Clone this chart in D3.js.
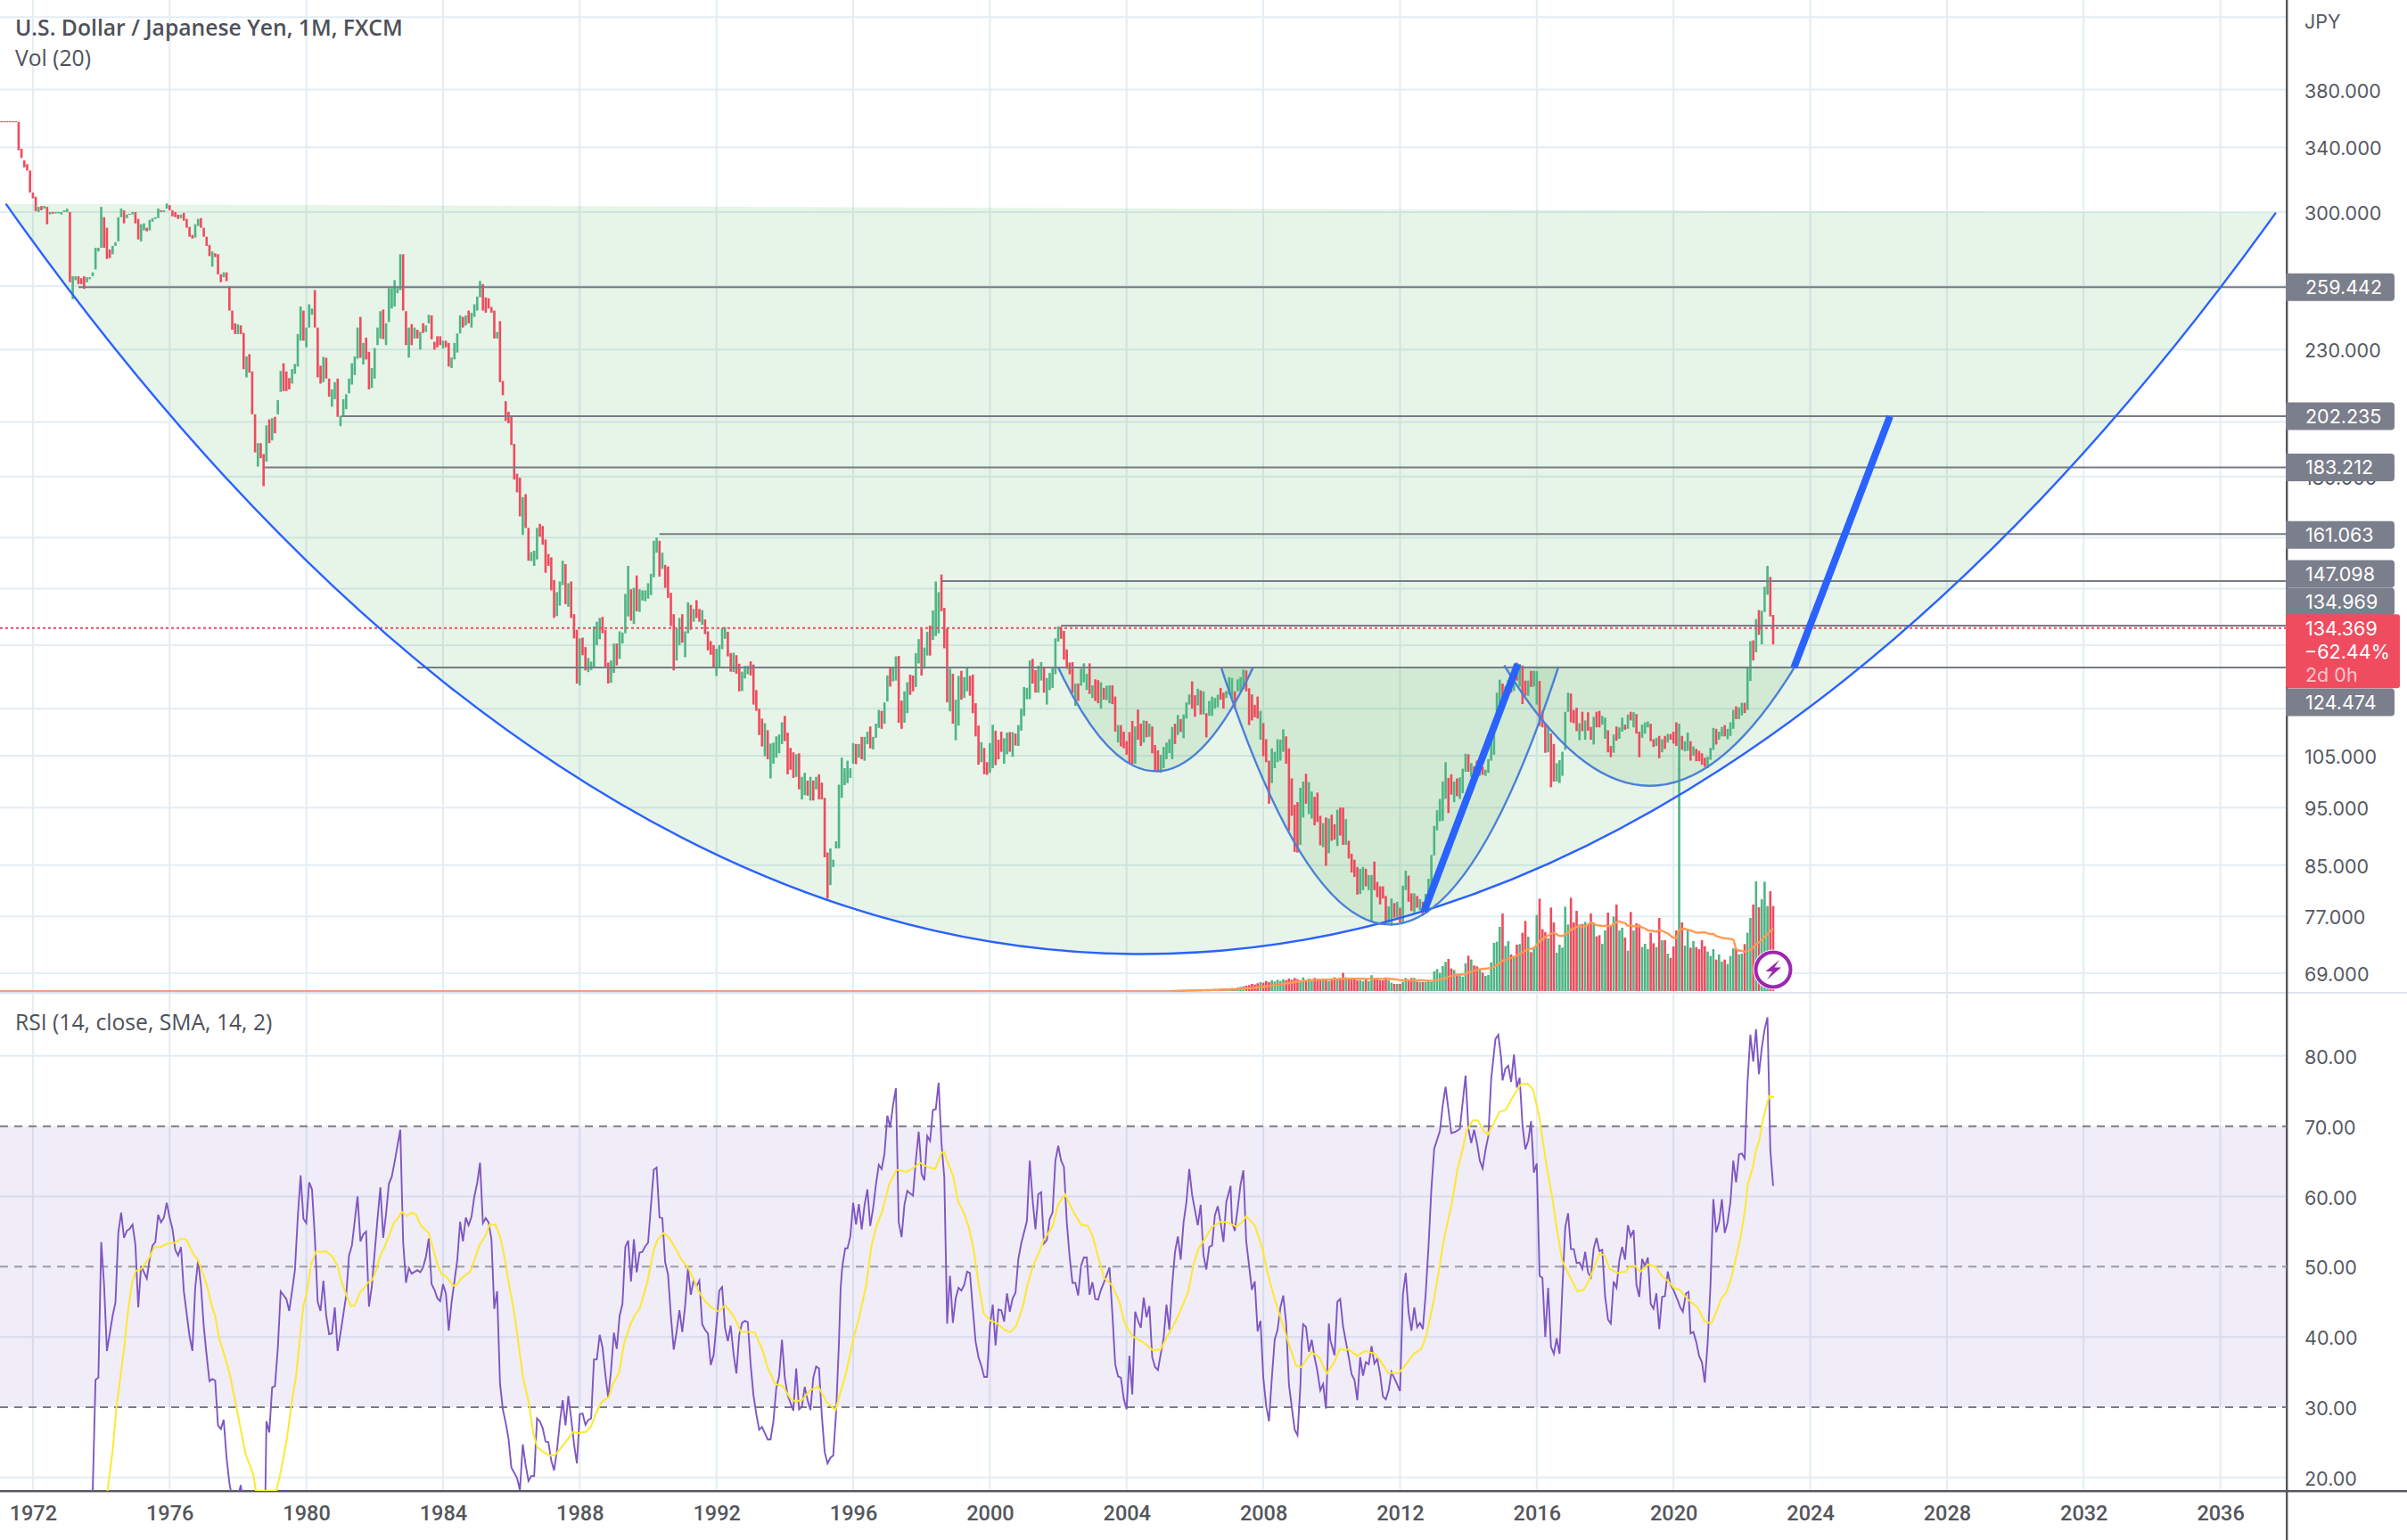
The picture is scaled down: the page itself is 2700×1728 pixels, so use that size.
<!DOCTYPE html>
<html>
<head>
<meta charset="utf-8">
<title>USD/JPY monthly</title>
<script src="https://cdn.jsdelivr.net/npm/d3@7"></script>
<style>
  html, body { margin: 0; padding: 0; background: #fff; }
  svg { display: block; }
  .scale text { font-family: Inter, Roboto, sans-serif; font-size: 21.5px; fill: #555962; }
  .time text { font-family: Roboto, sans-serif; font-size: 23.5px; font-weight: 500; fill: #54565c; }
  .legend { font-family: "Open Sans", sans-serif; font-size: 24.7px; fill: #4e5159; }
</style>
</head>
<body>
<svg id="chart" width="2700" height="1728"></svg>
<script>
// USD/JPY monthly bars as [high, low, rising]; month 0 is August 1971.
const firstMonth = -6;
const bars1971 = [
[357.5,357,0],[357.5,357,0],[357.5,357,0],[357.5,357,0],[357.5,357,0],[357.5,357,0],
[357,338,0],[339,333,0],[331.5,327,0],[329,325,0],[325,311.5,0],[311.5,308,0],[309,300.5,0],[303,300,1],[303.5,301,0],[303.5,302,1],
[303,293,0],[300,298.6,1],[300,299,0],[300,299.2,1],[300,299.2,1],[300,298.6,1],[301,300,1],[302,300,1],[300,262,0],[265,253.5,1],
[265,263,1],[265,261,0],[264,261,0],[265,258.6,0],[264.5,262,1],[264.5,263.5,1],[267,265,1],[280,268.5,1],[280,278,1],[303,280,1],
[297,280,0],[291,274,0],[279,274.5,0],[281,276.5,1],[283,281,1],[297,283.5,1],[302,297,1],[301,293.5,0],[298.6,296.5,1],[299,298.5,1],
[300,298.6,1],[300,293.5,0],[296,284.5,0],[293,283.5,1],[293.5,289.5,1],[291,289,0],[295.5,289.5,1],[296.5,294.5,1],[297,296,1],[302,296.5,1],
[301,300,0],[301,300,1],[305,302,1],[304,301,0],[301,297.5,0],[300,297,0],[298.5,296,0],[298.5,296.5,1],[299.5,295,0],[296,291,0],
[291.5,286,0],[287,285,0],[293,285.5,1],[296,292,1],[296.5,291,0],[291,286,0],[286,281,0],[281.5,275.5,0],[278,270,1],[277,275,0],
[276.5,266,0],[266,262,0],[267,264.5,1],[267,262.5,0],[260,248,0],[248,239,0],[242,237,0],[241.5,237,1],[241,237,0],[237.5,221.5,0],
[227,218,1],[228,220,0],[220.5,203,0],[203,188.6,0],[192,183.5,1],[192,186.5,0],[188,176.7,0],[198.7,185.3,1],[201,192,0],[201.5,193,1],
[202,195.7,0],[208.6,203,1],[220.7,212,1],[224,212.3,0],[220.5,212.3,0],[217.7,213,0],[221.5,215.4,1],[223.7,219.5,1],[237,222.6,1],[250,234,1],
[248,234,0]
];
const bars1980 = [
[240,231,1],[251,240,1],[249,246,1],[258,240,0],[240,218,0],[223,215.4,0],[226.8,216,1],[226.4,217.5,0],[217.5,210,0],[213,206,1],[216,209,1],[217.5,202,0],
[202.4,198.4,1],[209,202,1],[211,205,1],[217.5,211.4,1],[224,215,1],[227,219,1],[240,226,1],[245,226.4,0],[233,223.5,1],[235.4,225.7,0],[229,213,0],[222,213.6,1],
[230.7,217.5,1],[240,232,1],[247.7,235,1],[248.5,234.7,0],[242,232,1],[259,242.6,1],[259,249,1],[263,250,1],[259,256.5,1],[276.5,258,1],[276.5,248,0],[247.7,232,0],
[240,226.5,1],[241.6,232,0],[240,235,1],[239,235,0],[238,230,1],[242,237.5,0],[241,238,1],[246,242,1],[245.7,234.6,0],[233.5,230,0],[236,231,0],[236,232,0],
[234,230.5,1],[234,231,0],[233,222.6,0],[226.5,222,1],[233,225.7,1],[237.3,228.7,1],[245.7,237.3,1],[245,240,0],[245.7,241,1],[248,242,0],[247,240,1],[251,245,1],
[254.8,248,1],[262.6,254.5,1],[261,248,0],[254.4,247,0],[254,249,0],[249.7,247,0],[248,235,0],[238,235,1],[243,216,0],[216.5,210.6,0],[208.2,200.4,0],[204,199.5,0],
[202,191.3,0],[191.7,179,0],[181,174.6,0],[179.6,166.7,0],[173,160.8,1],[174,163,0],[163,153,0],[155.6,152.9,1],[156,151.5,1],[163,153.4,1],[164.3,160.3,0],[163.6,157.8,0],
[159.4,149.5,0],[155,151.5,0],[154,144.5,0],[147.4,137,0],[144,137.5,1],[147,140.3,1],[153,146,1],[152,140.7,0],[146.5,140,1],[147,137,0],[138,131.7,0],[133.9,120.7,0],
[131.7,120.3,1],[131.9,127.5,0],[129.5,123.8,0],[126.8,123.4,1],[125.9,123.9,1],[134.8,124.3,1],[136,130,1],[137,131.5,1],[137.3,133,0],[133.9,124.3,0],[125.7,120.7,0],[126.2,120.9,1],
[130.4,123.2,1],[130.4,125,0],[133.5,126.6,1],[133.2,130.4,1],[143.5,133,1],[151.5,137.4,1],[144.8,136.3,0],[145.2,135.4,1],[148.7,138.8,0],[144.8,138.6,1],[144.5,141.7,1],[144.5,141.5,1]
];
const bars1990 = [
[146.5,142.2,1],[149.2,143.2,1],[159,148.2,1],[160,155.4,1],[159,148.4,0],[155.4,150.6,1],[151.8,145.2,0],[151.3,142.4,0],[143.8,134.9,0],[138,123.8,0],[134.4,126.2,1],[137,130,1],
[138,130.6,0],[133.5,127,1],[141.2,133,1],[140.5,133.9,0],[139.4,136,1],[141.8,137,0],[139.4,136,0],[139.1,135.2,1],[136.6,132.8,0],[133.5,128.7,0],[131,127.6,0],[130,124.3,0],
[129.1,122.5,1],[130,124.3,1],[134.4,129,1],[134.6,131.6,1],[133.4,127.2,0],[128,123.5,0],[128.1,123.4,1],[127.5,123,0],[125.4,118.9,0],[123.5,119,1],[124.9,121.9,1],[124.9,122.9,1],
[126,122.6,0],[125.2,115.9,0],[119.2,114.5,0],[115,109.3,0],[112.8,106.9,0],[111.8,104.9,1],[110.3,104.3,0],[107.5,100.5,1],[107.7,103.4,1],[109,104.6,1],[109.4,105.5,1],[112,107.4,1],
[113.4,108,0],[109.8,101.3,0],[106.6,102.2,0],[105.7,100.6,0],[105.3,100.8,1],[105.5,98.4,0],[100.8,96.5,1],[101.6,97.3,1],[100.1,97.2,0],[100.8,96.3,1],[100.1,96.3,0],[100.8,98.4,1],
[101.3,96.5,0],[99.7,96.5,0],[96.8,86.3,0],[87.1,79.7,0],[87.8,81.8,1],[85.9,84.7,1],[89,87.8,1],[99.3,87.8,1],[104.6,96.8,1],[102.5,99.2,1],[104,99.6,1],[102.5,100.6,1],
[107.6,103.4,1],[107.4,103.3,0],[107.4,104.6,1],[108.9,104.3,0],[108.9,104,1],[110,107.4,1],[111.1,106.5,0],[108.9,106.3,1],[111.7,108.7,1],[114.7,110.8,1],[114.5,110.6,0],[116.4,111.7,1],
[122.6,116.6,1],[124.6,120,0],[124.6,121.2,1],[127.2,121.4,1],[127.3,111.9,0],[116.8,110.6,0],[118.9,111.9,1],[121,114,1],[122.8,118.1,0],[122.6,118.9,0],[128,119.9,1],[131.5,125.5,1],
[134.2,122.6,0],[129.4,124.2,1],[133.4,127.4,1],[135,127.4,0],[139,131.3,1],[147,132.3,1],[144,133,1],[149,138.8,0],[139.7,129.2,0],[134.2,116.4,0],[124.2,114.4,1],[123,111.7,0],
[117,108.2,1],[122.5,111.3,1],[123.7,117,0],[122.2,117.4,1],[124.6,118.9,1],[122.5,117.9,0],[122.8,114,0],[116.2,109,0],[111.3,103.2,0],[107.8,103.7,1],[106.6,101.3,0],[103.7,101.2,0]
];
const bars2000 = [
[107.6,101.6,1],[111.5,102.5,1],[110.2,103.1,0],[108.3,104.3,0],[110,105.8,0],[108.6,103.4,1],[109.8,105.3,1],[109.9,105.8,0],[109.9,104.8,1],[109.6,107.1,0],[111.4,107,1],[115,110.2,1],
[119.9,113.4,1],[119.7,117.1,1],[126.2,117.1,1],[126.6,120.7,0],[123.9,118.6,0],[124.9,118.6,1],[125.8,121.4,1],[124.6,118.6,0],[122,115.9,1],[123.2,119.2,1],[124.4,119.7,1],[131.7,122.9,1],
[134.8,130.9,1],[134.7,131.6,0],[133.6,126.4,0],[128.9,124.2,0],[125.7,122.9,0],[125.8,118.5,0],[120.7,115.6,1],[120.7,116.7,0],[124.2,120.2,1],[125.5,121,1],[123,119.2,1],[125.5,118.3,0],
[120.3,117.4,1],[121.7,116.7,0],[121.5,116.2,0],[121,115,1],[119.7,117,0],[120.2,116.9,1],[120.3,116.2,1],[120.3,116,0],[117.7,110,0],[111.4,107.7,1],[111.4,106.9,0],[110,106.5,0],
[108,105.2,0],[109.9,103.4,0],[112.3,103.4,0],[111.1,103.4,1],[114.8,108.3,0],[111.7,107,0],[112.4,107.7,1],[112.3,108.8,0],[111.7,108.9,1],[111.1,105.5,0],[107.2,101.9,0],[106.1,101.7,0],
[105.2,101.6,1],[106.8,102.5,1],[107.7,104.3,1],[108.4,105.5,1],[111,104.3,1],[111.7,107.4,0],[113.6,109.3,1],[112.7,109.9,0],[113.7,108.6,1],[116.4,112.8,1],[118.2,115.9,1],[121.2,115,0],
[118,113.2,0],[119.5,115.7,1],[119.1,113.7,0],[118.9,113.7,1],[114,108.8,0],[116.7,113.4,1],[117.7,113.4,1],[117.4,115,1],[118.1,115.3,1],[119.7,117,0],[118.6,115,0],[119,117.4,1],
[122.2,118.2,1],[122,117,1],[118.9,115,0],[121.7,118.9,1],[122.2,118.9,1],[124,119.4,1],[123.8,118.9,0],[119.6,111.4,0],[118.2,112.4,0],[115.8,113.1,0],[117.7,112.8,0],[114.5,108.3,1],
[111.8,104.9,0],[108.4,103.7,0],[104,95.7,0],[106.5,99.6,1],[105.8,102.5,1],[108.4,103.7,1],[108.3,104,1],[110.5,105.8,1],[109,103.4,0],[106.5,90.8,0],[100.5,93.5,0],[95.5,87.2,0],
[96,87.1,0],[98.7,88.4,1],[99.9,93.2,1],[101.4,95.7,0],[99.8,93.8,1],[98,93,1],[97,91.8,0],[97.8,92.4,0],[93.5,88.3,0],[92.2,88,1],[93.2,84.9,0],[93,87,1]
];
const bars2010 = [
[93.7,89.1,0],[92,89.3,0],[94.6,88.2,1],[95,90,0],[95,88.4,0],[92.9,88.4,1],[89.1,86.1,0],[86.9,83.8,0],[85.9,83.1,0],[84.7,80.3,0],[84.4,80.4,1],[84.7,81,1],
[84.4,81.6,0],[83.4,81,1],[83.4,76.3,1],[85.6,81,0],[82.3,79.9,0],[81.6,78.8,0],[81.6,79.7,0],[80.1,75.9,0],[78.5,76,1],[79.7,75.6,1],[79,76.8,0],[79.2,76.8,1],
[78.3,76.1,0],[81.7,76,1],[84.1,81,1],[83.3,79.2,0],[80.5,77.8,0],[80.5,77.6,1],[80.1,78.3,0],[79.6,77.9,1],[79.2,77.1,0],[80.4,77.8,1],[82.8,78.5,1],[86.7,80.1,1],
[91.7,86.6,1],[94.5,90.9,1],[96.6,92.5,1],[99.9,92.6,1],[103.7,96.6,1],[100.6,94,0],[101.3,97.4,0],[99.9,96,1],[100.5,97.1,0],[100.7,96.6,1],[102.4,97.7,1],[105.4,101.8,1],
[105.3,101.8,0],[103.5,100.8,1],[102.9,100.8,0],[104,101,0],[102.9,101,1],[102.8,101.2,0],[102.2,101,1],[104.3,101.6,1],[109.9,104,1],[112.4,105.2,1],[118.6,112.4,1],[121.6,114.7,1],
[120.7,115.9,0],[120.1,117.3,1],[121.5,118.5,1],[120.7,118.6,0],[125,119,1],[125.7,121.4,0],[125.4,120,1],[125,116,0],[121.4,117.9,0],[121.4,117.9,1],[123.7,119.9,0],[123.7,120,1],
[123.6,115.9,1],[121.3,111.2,0],[114.4,110.9,0],[111.8,105.6,0],[111.2,105.7,1],[109.6,98.8,0],[107.4,99.9,0],[103.5,99.9,1],[104.1,99.6,1],[105.8,101,1],[114.3,106.2,1],[118.6,114.3,1],
[118.4,112,0],[114.7,111.8,0],[115.2,110.1,0],[111.8,108.2,1],[114.3,110.1,0],[112.4,108.3,1],[114.2,110.2,0],[111,108.3,0],[113.2,107.3,1],[114.3,110.9,0],[114.5,110.9,0],[113.4,111.5,1],
[113,108.5,1],[110.3,105.7,0],[107,104.7,0],[109.4,105.6,1],[111.1,108.1,0],[110.9,108.5,1],[113,110,1],[111.5,110.4,0],[113.7,110.6,1],[114.3,112.4,0],[114.2,110.9,1],[113.8,109.6,0],
[110,104.7,0],[111.5,108.7,1],[112,109.6,1],[112.2,110.9,1],[111.7,108,0],[108.4,106.8,0],[108.7,107,1],[109.1,104.5,0],[108.4,105.7,1],[109.1,106.4,0],[109.5,107.7,1],[109.5,108.3,0]
];
const bars2020 = [
[110,107.5,0],[112,107,0],[111.7,102,1],[109.1,106.2,0],[108,105.9,1],[109.8,106,1],[108,104,0],[106.9,105,1],[106.4,103.9,0],[106,103.9,0],[105.5,103.2,0],[104.6,102.8,0],
[104.8,102.5,1],[106.6,104.2,1],[110.8,106.2,1],[110.6,107.3,0],[110,108.3,1],[111,109,1],[111.4,109,0],[110.6,108.4,1],[112,109.1,1],[114.7,110.6,1],[115.5,112.7,0],[115.3,112.7,1],
[116.3,113.5,1],[116.3,114,0],[124.7,114.7,1],[131,121.3,1],[131.2,126.2,0],[136.7,128.2,1],[139.1,132.6,0],[138.9,130.2,1],[145.5,138.6,1],[151.5,143.3,1],[148.3,137.4,0],[137.8,130.2,0]
];
const priceBars = [...bars1971, ...bars1980, ...bars1990, ...bars2000, ...bars2010, ...bars2020];

// Volume starts being reported in month 405; months before that carry none.
const volumeFirstMonth = 405;
const volumeValues = [
3,3,4,3,4,4,5,4,5,5,5,6,6,5,6,7,6,7,8,8,
9,10,9,12,14,16,18,20,24,22,26,30,28,34,30,36,32,38,34,40,
36,42,38,44,40,36,46,34,42,38,44,40,36,42,38,34,40,46,
41,44,61,46,44,41,41,36,36,33,39,33,53,39,39,36,36,46,36,28,
24,24,24,31,44,39,44,44,32,30,30,30,36,30,66,74,61,84,98,108,
76,71,58,56,48,93,119,106,86,83,73,62,51,54,96,162,166,216,261,152,
168,123,116,156,158,196,236,183,131,146,256,311,208,198,178,281,231,129,156,146,
284,224,314,231,270,224,226,233,226,261,228,184,188,159,204,264,221,251,291,204,
213,180,136,266,204,228,224,148,159,141,196,161,148,246,171,171,126,111,150,204,
750,231,153,206,146,168,148,141,171,151,133,118,141,106,123,99,106,91,118,144,143,
123,126,158,196,246,291,369,282,309,368,286,336,286
];
const volumeWindow = 20;

// RSI(14) as [month, value]; readings under 20 fall below the pane.
const rsiEarly = [
[25,8],[26,18],[27,33.9],[28,34.2],[29,53.5],[30,47.4],[31,38],[33,43],[34,44.9],[35,54.8],[36,57.7],[37,54.1],[38,55.1],[39,55.4],[40,56],[41,53.1],[42,44.2],[43,50.1],[44,49.2],[45,48.3],[46,51.1],[47,53],[48,53.5],[49,57.4],[50,56.3],[51,57],[52,59.1],[53,57],[54,55.4],[55,52.4],[56,51.6],[57,52.8],[58,46.5],[60,40.1],[61,38],[62,47],[63,50.9],[64,47.4],[65,41.5],[66,37.4],[67,33.7],[68,34],[69,33.8],[70,27.4],[71,26.9],[72,28.2],[73,22.8],[74,19.2],[75,17],[77,17.4],[78,18.9],[79,16],[82,12],[86.5,14],[87,28],[88,26.4],[89,32.8],[90,33],[91,38.4],[92,46.5],[94,45.4],[95,43.7],[96,46.5],[97,49.5],[98,57],[99,63],[100,56.8],[101,56.2],[102,62],[103,61],[104,54.2],[105,45],[106,43.7],[107,48],[108,43],[109,40.4],[110,40.5],[111,44.2],[112,38],[113,40.5],[114,43.2],[115,45.9],[116,51.6],[117,53],[119,60],[120,53.6],[121,54.6],[122,55],[123,44.3],[124,47.2],[126,56.8],[127,61.3],[128,54.1],[129,57.5],[130,61.8],[131,62.8],[132,64.9],[134,69.5],[135,53.5],[136,47.7],[137,49.8],[138,49],[140,49.5],[141,49.2],[142,49.9],[143,51.4],[144,54],[145,47.5],[146,46.7],[147,45.5],[148,45.1],[149,47.5],[150,46.2],[151,40.9],[152,44.9],[154,50.9],[155,56.4],[156,53.6],[157,57],[158,55.9],[159,57.1],[160,60],[161,61.9],[162,64.8],[163,56.2],[164,56.9],[165,56.3],[166,53.9],[167,44],[168,46.5],[169,33.4],[170,29.7],[171,27.8],[172,25.5],[173,21.4],[175,19.9],[176,18.2],[177,24.7],[178,21.8],[179,19.5],[180,20.2],[181,20.2],[182,28.4],[183,28],[184,27],[185,25.1],[186,25],[187,22.4],[188,21],[189,23.8],[190,27.8],[191,31],[192,27.4],[193,31.6],[194,28.4],[195,24.7],[196,22],[197,29],[198,29.1],[199,27.5],[200,28.2],[201,28.4],[202,36.8],[203,36.8],[204,40.3],[205,38.5],[206,34.6],[207,31.3],[208,35.3],[209,40.6],[210,38.3],[211,43],[212,44.7],[213,52.8],[214,53.7],[215,47.9],[216,53.9],[217,49.2],[218,52],[219,52.1],[220,52.9],[221,53.4],[222,58.7],[223,63.8],[224,64.1],[225,57],[226,56.9],[227,50.6],[228,48.9],[229,43],[230,38.2],[231,40.7],[232,43.8],[233,40.7],[234,44.4],[235,49.8],[236,46],[237,48.1],[238,47.2],[239,48],[240,41.8],[241,41],[242,40.5],[243,36],[244,37.4],[245,41.8],[246,46.6],[247,47.1],[248,41.3],[249,39.4],[250,41.6],[251,37.6],[252,34.8],[253,40.3],[254,42],[255,42.3],[256,42.1],[257,36.1],[258,31.7],[259,29],[260,26.8],[261,27.2],[263,25.4],[264,25.4],[265,28],[266,32.7],[267,34.4],[268,39.6],[269,34.2],[270,31.7],[272,29.5],[273,35.5],[274,29.7],[275,30.1]
];
const rsiMiddle = [
[276,32.9],[277,31],[278,29.6],[279,34.2],[280,35.8],[281,35.5],[282,28.8],[283,23.6],[284,22],[285,22.8],[286,23.1],[287,29.2],[288,39.1],[288.6,47],[289.2,50.1],[290.2,52.6],[291,52.6],[292,54.3],[293,59.1],[294,56],[295,58.9],[296,55.3],[297,58.8],[298,61],[299,55.8],[300,58.3],[301,61.7],[302,64.5],[303,63.9],[304,66.1],[305,71.5],[306,69.8],[307,73],[308,75.4],[309,56.3],[310,54.2],[311,58.8],[312,60.8],[314,60.1],[315,65.1],[316,69.2],[316.5,66.6],[317,63.2],[318,62.3],[319,68.6],[320,67.9],[321,72.3],[322,72.4],[323,76.2],[324,67.6],[325,62.7],[326,41.9],[327,48.7],[328,42],[329,45.5],[330,47],[331,46.6],[332,47.4],[333,49.3],[334,49.1],[335,44],[336,39.3],[337,37.1],[338,35.9],[339,34.3],[340,34.3],[341,41.5],[342,44.6],[343,38.8],[344,43.9],[345,43.8],[346,42.2],[347,46.2],[348,43.6],[349,45.5],[350,46.3],[351,51.1],[352,53.3],[354,56.5],[355,65.1],[356,59.5],[357,55.3],[358,60.3],[359,60.6],[360,53.3],[361,53.8],[362,56.8],[363,57.7],[364,65.1],[365,67.2],[366,65.1],[367,64.2],[368,56.3],[369,51.4],[370,47.7],[371,47.7],[372,45.9],[373,50.1],[374,51.3],[375,51.3],[376,46],[377,47.8],[378,45.4],[379,45.3],[380,46.7],[381,47.7],[383,49.9],[384,43.3],[385,36.1],[386,34.4],[387,34.2],[388,31.2],[389,29.7],[390,37.3],[391,31.8],[392,43.6],[393,42.3],[394,41.3],[395,45.6],[396,42.8],[397,44.4],[398,37.1],[399,35.7],[400,35.3],[401,37.6],[402,39.8],[403,44.6],[404,41],[405,47.4],[406,52.1],[407,54.3],[408,51],[409,56.3],[410,59.2],[411,63.9],[412,60.2],[414,55.9],[415,58.8],[416,51.6],[417,49.6],[418,52.8],[419,53],[420,57.3],[421,58.6],[422,56.3],[423,53.5],[424,59.2],[425.5,61.5],[426,56.3],[427,55.1],[428,58.3],[429,61.7],[430,63.7],[431,53.6],[433,46.7],[434,47.9],[435,40.8],[436,42.3],[437,34.2],[438,30.2],[439,28],[440,34.2],[441,39.6],[442,41],[443,44.2],[444,45.9],[445,42],[446,33.2],[447,30],[448,26.8],[449,26],[450,32.9],[450.5,39.1],[451,41.8],[452,41.4],[453,37.9],[454,39.6],[455,37.1],[456,35.1],[457,32.4],[458,33.3],[459,29.8],[460,41.9],[460.5,39.6],[462,37.4],[463,45],[464,45.4],[465,41.5],[467,37.1],[468,34.7],[469,33.9],[470,31],[471,37.1],[472,34.5],[473,36.4],[474,36.1],[475,38.7],[476,36.2],[477,36.9],[478,34.7],[479,31.5],[480,31.1],[481,32.4],[482,35],[483.5,33.7],[485,32.3]
];
const rsiLate = [
[486,46],[487,49.1],[488,43.5],[489,40.9],[490,44.2],[491,41.4],[492,42],[493,41.1],[494,46.1],[495,52.9],[496,61],[497,66.8],[499,69.3],[500,73],[501,75.6],[502,72.3],[503,69],[504.5,69.2],[506,69.6],[508,77.2],[509,69.6],[510,67.6],[511,69.5],[512,67.6],[513,65.1],[514,64],[515,66.6],[516,68.6],[517,76.7],[518.5,82.4],[519.5,83],[520.5,79.7],[521,76.5],[522,78.2],[523,78.6],[524,76.3],[525,80.2],[526,75.5],[527,76.9],[528,70.1],[529,66.7],[530,67.9],[531,70.7],[532,63.4],[533,64.7],[534,48.7],[535,48.4],[536,40],[537,47],[538,38.6],[539,37.6],[540,39.8],[541,37.6],[542,47],[543,55.6],[544,57.6],[545,52.5],[546,52.5],[547,50.5],[548,50.6],[549,49.7],[550,52.1],[551,49.2],[552,48.5],[553,52.6],[554,54.1],[555,52.2],[556,52.4],[557,45.7],[557.4,44.5],[558,42.5],[559,41.9],[560,47.9],[561,47],[562,50.9],[563,52.8],[564,51],[565,55.9],[566,54.3],[567,55.2],[568,47.4],[569,45.7],[570,51.1],[571,50.1],[572,51.3],[573,44.7],[574,44],[575,46.2],[576,41.1],[577,45.7],[578,45.8],[579,49.3],[580,47.4],[581,46.7],[582.5,45.2],[583.4,44.2],[584.3,43.6],[585.4,46.2],[586.3,46.4],[587,40.5],[588,40.7],[589,39.3],[590,37.3],[591,36.4],[592,33.5],[593,39.1],[594,47.4],[595,59.6],[596,54.9],[597,56.3],[598,59.6],[599,54.8],[600,56.3],[601,59.2],[602,65.1],[603,62],[604,66],[605,66.1],[606,65.4],[607,76.2],[608,83],[609,79.2],[610,83.8],[611,77.4],[612,81.1],[613,83.8],[614,85.5],[615,66.6],[616,61.5]
];
const rsiSmoothed = [
[31.2,18.1],[33,23.8],[34.4,30.2],[35.7,34.2],[37.1,38.6],[38.2,43],[39.8,47.7],[41.1,49.4],[42.9,49.6],[45.6,51.1],[47.7,52.8],[49.9,52.8],[52.4,53.3],[54.9,53.4],[57.2,54],[59,53.8],[61.4,51.7],[62.8,51.1],[64.4,49.4],[66.2,47.2],[67.8,44.5],[69.1,42.8],[70.4,39.8],[72.1,37.6],[74,34.9],[75.6,31.7],[77.9,27],[79.7,23.3],[82.4,20.4],[83.3,18.1],[90.5,18.1],[91.9,20.6],[94.1,25.3],[95.9,30.7],[97.3,34.2],[98.6,39.1],[100,44.5],[101.3,46.5],[102.7,50.4],[104.5,52.2],[106.1,52.1],[107.9,52.2],[110.2,51.4],[112,50.1],[113.1,48.2],[115.3,45.7],[116.7,44.4],[118,44.5],[119.8,46.3],[121.4,47],[122.5,47.7],[124.1,48.1],[125.5,49.4],[126.8,51.4],[128.6,52.9],[130.4,54.8],[131.8,56.3],[133,56.8],[134.5,57.8],[136.3,57.2],[138.1,57.7],[139.5,57.4],[141.3,55.8],[144,54.8],[145.3,52.9],[147,50.4],[148.5,48.9],[150.1,48.6],[152.5,47.3],[153.7,47.4],[155.2,48.2],[156.6,48.7],[158.4,49.2],[159.6,50.4],[161.8,53.1],[163.8,54.3],[165.4,56],[167.4,56],[169.2,54.1],[171,50.4],[172.2,47.4],[174,43.5],[175.3,39.6],[177.1,34.2],[179.1,30.7],[180.7,26.3],[182.1,24.3],[184.3,23.6],[186.6,23.1],[188.4,23.2],[190.2,24.1],[192.5,25.3],[194.7,26.5],[196.5,26.3],[199.2,26.5],[201,27.3],[202.8,29.2],[204.6,30.7],[207.3,31.5],[208.5,33.2],[210.8,34.9],[212.6,39.1],[214.8,41.8],[216.2,43],[218,44],[220.7,47.7],[223,52.4],[224.3,53.8],[226.5,54.8],[228.4,54.1],[230.6,52.6],[232.9,50.9],[235,49.9],[237,48.2],[238.7,46.5],[241,45.1],[243.2,44.2],[245.9,43.6],[248,44.5],[249.5,43.8],[251.3,42.8],[253.6,40.7],[256.7,40.7],[258.5,40.6],[261.2,38.1],[263,35.6],[265.6,33.3],[268.3,33],[271,31.2],[272.8,30.8],[275,31],
[277.8,32.4],[280.8,32.9],[283.7,30.7],[286.8,29.6],[288.6,32.2],[290.4,34.7],[293,39.6],[295.2,43],[297.6,47.4],[299.4,52.9],[301.2,55.8],[303.3,58],[305.6,61.7],[308.3,63.8],[311.9,63.5],[314.6,64.2],[316.4,64.8],[319.1,64.2],[321.8,63.9],[324,66.2],[325,66.3],[326.3,64.7],[328.1,62.9],[329.9,59.2],[331.7,57.8],[333.5,55.8],[335.3,52.4],[337.1,47.4],[338.9,43.3],[341.2,42.3],[343.4,42],[346.1,41],[348.2,40.7],[350.2,41.5],[352.7,44.5],[354.2,47.4],[356,49.9],[358.6,52.4],[359.9,53.8],[363.1,55.8],[364.9,58.8],[367.4,60.3],[370.3,57.8],[373,56],[375.4,55.8],[377.1,54.3],[379,51.4],[381.1,48.4],[383.8,47.4],[386.5,45],[388.3,42],[391,40.1],[394.6,39.3],[398.2,38.1],[400.9,38.2],[403.6,40.3],[406.3,42.3],[408.9,44.7],[410.7,46.5],[412.5,50.4],[414.3,52.6],[417,54.3],[418.8,55.6],[422.1,56.4],[424.6,56.3],[427.5,55.7],[429.6,56.3],[431,57.2],[434.1,55.8],[436.8,52.4],[438.6,48.9],[441.3,45],[444,41.5],[446.7,38.1],[448.5,35.9],[450.3,35.7],[453.9,37.8],[456.6,37.1],[459.3,34.8],[461.9,36.4],[463.7,38.2],[467,38.2],[470,37.3],[472.7,38],[476.3,37.6],[478.1,36.6],[480.8,34.9],[484.4,34.8],[487.1,36.1],[489.8,37.6],[492.5,38.3],[494.3,40.3],[497,45.5],[498.8,49.9],[500.6,54.3],[503.3,59.2],[505.1,63.7],[507.2,67.1],[508.3,69.3],[510.5,70.8],[512.3,70.8],[514.4,69.3],[515.8,68.8],[517.6,70.1],[519.8,72],[522.1,72.3],[524.8,74.3],[527.5,76],[529.9,76],[531.7,75.2],[533.8,71.5],[536.5,64.2],[538.3,60.2],[540.1,55.3],[541.9,50.9],[545.1,48.2],[547.3,46.5],[549.4,46.7],[550.9,47.7],[553.2,49.9],[555,51.9],[556.8,51.6],
[558.6,49.7],[561.3,49.1],[564.3,49.3],[565.8,50.1],[567.6,50.1],[569.4,49.3],[572.1,50.3],[574.8,50],[576.9,48.7],[579.3,47.9],[581,47],[583.2,46.7],[586.4,45.2],[589.5,44.2],[591.8,42.3],[594.2,41.9],[596,43.5],[597.8,45.5],[599.4,46.2],[601.2,48.2],[603,51.4],[604.4,53.8],[606.2,58.3],[607.1,61.7],[608.9,64.2],[610,66.6],[611.2,68.1],[612.5,71.1],[614.6,74.3],[616.3,74.1]
];

// Tick labels and scale levels.
const yearLabels = [1972,1976,1980,1984,1988,1992,1996,2000,2004,2008,2012,2016,2020,2024,2028,2032,2036];
const priceGridLevels = [437,380,340,300,260,230,200,180,160,145,130,115,105,95,85,77,69];
const priceLabels = [380,340,300,230,180,105,95,85,77,69];
const rsiLevels = [20,30,40,50,60,70,80];

// Horizontal rays: [first month, price].
const rayLevels = [[21,259.442],[113.3,202.235],[86.4,183.212],[225,161.063],[324,147.098],[366,134.969],[140,124.474]];
const lastPrice = 134.369;
const lastPriceChange = "−62.44%";
const barCountdown = "2d 0h";

// Rounded-bottom patterns; the large arc has two control anchors, the cups one. Points are [month, price].
const outerArc = [[-4.5,304.8],[243.9,44.3],[542.8,44.3],[792.5,299.6]];
const cupArcs = [
  [[365,124.5],[399.4,83.4],[433.4,124.5]],
  [[422.3,124.3],[481.4,46.2],[540.5,124.4]],
  [[521.6,125],[572.5,78.6],[623.7,124.8]]
];
// Thick projection strokes, [month, price] at both ends.
const projections = [
  [[493.4,77.7],[526.3,125.3]],
  [[623.3,124.474],[657,202.235]]
];

const colors = {
  grid: "#e3edf4", rising: "#4fb584", falling: "#ef4b5d", ray: "#787b86",
  arc: "#2962ff", cup: "#4a80d8", zone: "rgba(76,175,80,0.135)", axis: "#55565c",
  rsi: "#7e57c2", rsiAvg: "#fde92e", rsiBand: "rgba(126,87,194,0.115)", vol: "#ff9a52"
};

// Layout of the two panes.
const paneRight = 2565, priceBottom = 1113, rsiTop = 1115, rsiBottom = 1673;

const svg = d3.select("#chart");
const x = d3.scaleLinear().domain([0, 616]).range([20.9, 1989]);
const y = d3.scaleLog().domain([105, 69]).range([848, 1092]);
const rsiY = d3.scaleLinear().domain([20, 80]).range([1657.8, 1184.8]);
const volY = d3.scaleLinear().domain([0, 369]).range([1112, 989]);
const yearMonth = yr => (yr - 1971) * 12 - 7;

const defs = svg.append("defs");
defs.append("clipPath").attr("id", "pricePane").append("rect").attr("width", paneRight).attr("height", priceBottom);
defs.append("clipPath").attr("id", "rsiPane").append("rect").attr("y", rsiTop).attr("width", paneRight).attr("height", rsiBottom - rsiTop);

// Grid
const grid = svg.append("g").attr("stroke", colors.grid).attr("stroke-width", 2);
grid.selectAll("line.v").data(yearLabels).join("line").attr("class", "v")
  .attr("x1", d => x(yearMonth(d))).attr("x2", d => x(yearMonth(d))).attr("y1", 0).attr("y2", rsiBottom);
grid.selectAll("line.p").data(priceGridLevels).join("line").attr("class", "p")
  .attr("x1", 0).attr("x2", paneRight).attr("y1", d => y(d)).attr("y2", d => y(d));
grid.selectAll("line.r").data(rsiLevels.filter(d => d !== 70 && d !== 30 && d !== 50)).join("line").attr("class", "r")
  .attr("x1", 0).attr("x2", paneRight).attr("y1", d => rsiY(d)).attr("y2", d => rsiY(d));

// Curve through [month, price] anchors: cubic with four anchors, quadratic with three
function arcPath(a, closed) {
  const p = d3.path(), pt = d => [x(d[0]), y(d[1])];
  p.moveTo(...pt(a[0]));
  if (a.length === 4) p.bezierCurveTo(...pt(a[1]), ...pt(a[2]), ...pt(a[3]));
  else p.quadraticCurveTo(...pt(a[1]), ...pt(a[2]));
  if (closed) p.closePath();
  return p.toString();
}

const price = svg.append("g").attr("clip-path", "url(#pricePane)");

// Filled zones behind the bars
price.append("path").attr("d", arcPath(outerArc, true)).attr("fill", colors.zone);
price.selectAll("path.cupfill").data(cupArcs).join("path").attr("class", "cupfill")
  .attr("d", d => arcPath(d, true)).attr("fill", colors.zone);

// Volume bars and their moving average
const volumeRows = volumeValues.map((v, k) => ({ month: volumeFirstMonth + k, v }));
const barAt = m => priceBars[m - firstMonth];
const tint = up => up ? colors.rising : colors.falling;
price.append("g").selectAll("rect").data(volumeRows).join("rect")
  .attr("x", d => x(d.month) - 1.3).attr("width", 2.6)
  .attr("y", d => volY(d.v)).attr("height", d => volY(0) - volY(d.v))
  .attr("fill", d => tint(barAt(d.month)[2]));

const volumeAverage = d3.range(volumeFirstMonth, 617).map(m => {
  const seen = d3.range(m - volumeWindow + 1, m + 1).map(t => t >= volumeFirstMonth ? volumeValues[t - volumeFirstMonth] : 0);
  return [m, d3.sum(seen) / volumeWindow];
});
price.append("line").attr("x1", 0).attr("x2", x(volumeFirstMonth)).attr("y1", volY(0)).attr("y2", volY(0))
  .attr("stroke", "#f47f5c").attr("stroke-width", 1.6);
price.append("path").datum(volumeAverage)
  .attr("d", d3.line().x(d => x(d[0])).y(d => volY(d[1])).curve(d3.curveMonotoneX))
  .attr("fill", "none").attr("stroke", colors.vol).attr("stroke-width", 2.4);

// Price bars
price.append("g").selectAll("rect").data(priceBars).join("rect")
  .attr("x", (d, k) => x(firstMonth + k) - 1.3).attr("width", 2.6)
  .attr("y", d => y(d[0])).attr("height", d => Math.max(1.2, y(d[1]) - y(d[0])))
  .attr("fill", d => tint(d[2]));

// Last price marker
price.append("line").attr("x1", 0).attr("x2", paneRight).attr("y1", y(lastPrice)).attr("y2", y(lastPrice))
  .attr("stroke", colors.falling).attr("stroke-width", 2).attr("stroke-dasharray", "3 3");

// Rays
price.append("g").selectAll("line").data(rayLevels).join("line")
  .attr("x1", d => x(d[0])).attr("x2", paneRight).attr("y1", d => y(d[1])).attr("y2", d => y(d[1]))
  .attr("stroke", colors.ray).attr("stroke-width", 2);

// Arc outlines
price.append("path").attr("d", arcPath(outerArc, false)).attr("fill", "none").attr("stroke", colors.arc).attr("stroke-width", 2.4);
price.selectAll("path.cupline").data(cupArcs).join("path").attr("class", "cupline")
  .attr("d", d => arcPath(d, false)).attr("fill", "none").attr("stroke", colors.cup).attr("stroke-width", 2.4);

// Projection strokes
price.selectAll("line.proj").data(projections).join("line").attr("class", "proj")
  .attr("x1", d => x(d[0][0])).attr("y1", d => y(d[0][1])).attr("x2", d => x(d[1][0])).attr("y2", d => y(d[1][1]))
  .attr("stroke", colors.arc).attr("stroke-width", 8);

// Lightning badge over the volume bars
const badge = svg.append("g").attr("transform", `translate(${x(616)},${volY(0) - 24})`);
badge.append("circle").attr("r", 22.5).attr("fill", "#fff");
badge.append("circle").attr("r", 19.5).attr("fill", "#fff").attr("stroke", "#9c27b0").attr("stroke-width", 4);
badge.append("path").attr("d", "M7,-11 L-8.5,2 L-1,2 L-7,11.5 L9,-2.5 L1.5,-2.5 Z").attr("fill", "#9c27b0");

// Pane separators and frame
svg.append("rect").attr("x", 0).attr("y", priceBottom).attr("width", 2700).attr("height", 2).attr("fill", "#dfe3ea");
svg.append("rect").attr("x", 0).attr("y", rsiBottom - 1).attr("width", 2700).attr("height", 2.4).attr("fill", colors.axis);
svg.append("rect").attr("x", paneRight - 1).attr("y", 0).attr("width", 2.4).attr("height", 1728).attr("fill", colors.axis);

// RSI pane
const rsiPane = svg.append("g").attr("clip-path", "url(#rsiPane)");
rsiPane.append("rect").attr("x", 0).attr("width", paneRight).attr("y", rsiY(70)).attr("height", rsiY(30) - rsiY(70)).attr("fill", colors.rsiBand);
rsiPane.selectAll("line.band").data([70, 50, 30]).join("line").attr("class", "band")
  .attr("x1", 0).attr("x2", paneRight).attr("y1", d => rsiY(d)).attr("y2", d => rsiY(d))
  .attr("stroke", d => d === 50 ? "#9a9ba6" : "#787b86").attr("stroke-width", 2).attr("stroke-dasharray", "9 7");
const rsiPath = d3.line().x(d => x(d[0])).y(d => rsiY(d[1]));
rsiPane.append("path").attr("d", rsiPath([...rsiEarly, ...rsiMiddle, ...rsiLate]))
  .attr("fill", "none").attr("stroke", colors.rsi).attr("stroke-width", 1.9);
rsiPane.append("path").attr("d", rsiPath(rsiSmoothed))
  .attr("fill", "none").attr("stroke", colors.rsiAvg).attr("stroke-width", 2);

// Right-hand scales
const priceAxis = svg.append("g").attr("class", "scale").attr("transform", `translate(${paneRight},0)`)
  .call(d3.axisRight(y).tickValues(priceLabels).tickFormat(d3.format(".3f")).tickSize(0).tickPadding(20));
priceAxis.select(".domain").remove();
const rsiAxis = svg.append("g").attr("class", "scale").attr("transform", `translate(${paneRight},0)`)
  .call(d3.axisRight(rsiY).tickValues(rsiLevels).tickFormat(d3.format(".2f")).tickSize(0).tickPadding(20));
rsiAxis.select(".domain").remove();
svg.selectAll(".scale .tick text").attr("dy", "0.4em");

// Time scale
const timeAxis = svg.append("g").attr("class", "time").attr("transform", `translate(0,${rsiBottom})`)
  .call(d3.axisBottom(x).tickValues(yearLabels.map(yearMonth))
    .tickFormat(m => String(Math.round((m + 7) / 12 + 1971))).tickSize(0).tickPadding(16));
timeAxis.select(".domain").remove();

// Price tags on the scale; their centres are spread apart where levels crowd together
const tagShift = { 161.063: 1, 147.098: -8, 134.969: -27, 124.474: 39 };
const tags = svg.append("g").attr("class", "scale");
rayLevels.forEach(([, v]) => {
  const cy = y(v) + (tagShift[v] || 0);
  const p = d3.path();
  p.moveTo(paneRight - 1, cy - 15.5); p.lineTo(2682, cy - 15.5); p.arcTo(2686, cy - 15.5, 2686, cy - 11.5, 4);
  p.lineTo(2686, cy + 11.5); p.arcTo(2686, cy + 15.5, 2682, cy + 15.5, 4); p.lineTo(paneRight - 1, cy + 15.5); p.closePath();
  tags.append("path").attr("d", p.toString()).attr("fill", "#7b7e8b");
  tags.append("text").attr("x", 2586).attr("y", cy).attr("dy", "0.36em").style("fill", "#fff").text(v.toFixed(3));
});
const lastTag = y(lastPrice) - 15.5;
tags.append("rect").attr("x", paneRight - 1).attr("y", lastTag).attr("width", 128).attr("height", 83).attr("rx", 3).attr("fill", "#ef4d5f");
tags.append("text").attr("x", 2586).attr("y", y(lastPrice)).attr("dy", "0.38em").style("fill", "#fff").text(lastPrice.toFixed(3));
tags.append("text").attr("x", 2585).attr("y", y(lastPrice) + 26.5).attr("dy", "0.38em").style("fill", "#fff").text(lastPriceChange);
tags.append("text").attr("x", 2586).attr("y", y(lastPrice) + 52).attr("dy", "0.38em").style("fill", "#ffc4cb").text(barCountdown);
tags.append("text").attr("x", 2585).attr("y", 24).attr("dy", "0.36em").text("JPY");

// Legend lines
const legend = svg.append("g");
legend.append("text").attr("class", "legend").attr("x", 17).attr("y", 40).attr("font-weight", 600).text("U.S. Dollar / Japanese Yen, 1M, FXCM");
legend.append("text").attr("class", "legend").attr("x", 17).attr("y", 74).text("Vol (20)");
legend.append("text").attr("class", "legend").attr("x", 17).attr("y", 1156).text("RSI (14, close, SMA, 14, 2)");
</script>
</body>
</html>
